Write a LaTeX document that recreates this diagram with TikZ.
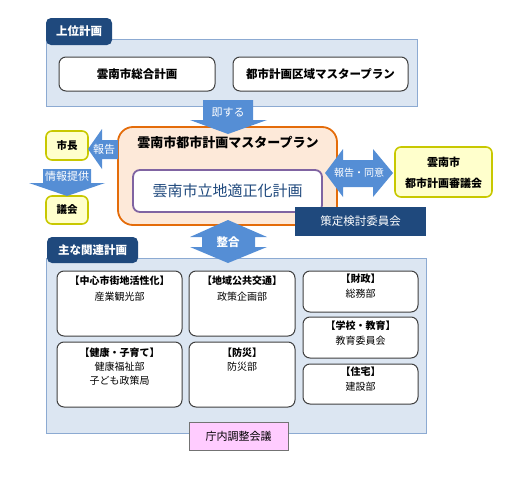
\documentclass[tikz,border=0pt]{standalone}
\usepackage{fontspec}
\setmainfont{Noto Sans CJK JP}
\definecolor{navy}{RGB}{31,73,125}
\definecolor{panelfill}{RGB}{220,230,242}
\definecolor{paneldraw}{RGB}{140,170,210}
\definecolor{arrowblue}{RGB}{85,142,213}
\definecolor{peach}{RGB}{253,233,217}
\definecolor{orangeline}{RGB}{228,108,10}
\definecolor{purpleline}{RGB}{128,100,162}
\definecolor{paleyellow}{RGB}{255,255,204}
\definecolor{yellowline}{RGB}{200,200,0}
\definecolor{pink}{RGB}{255,204,255}
\definecolor{darktext}{RGB}{31,73,125}
\tikzset{
  every node/.style={inner sep=0pt, outer sep=0pt},
  panel/.style={draw=paneldraw, fill=panelfill, line width=0.9pt},
  tab/.style={fill=navy, rounded corners=5pt, text=white, font=\fontsize{11.5}{13}\selectfont\bfseries},
  wbox/.style={draw=black!75, fill=white, rounded corners=7pt, line width=1pt},
  ybox/.style={draw=yellowline, fill=paleyellow, rounded corners=6pt, line width=1.6pt},
  blockarrow/.style={fill=arrowblue},
  arrowtext/.style={text=white, font=\fontsize{11}{13}\selectfont},
  head/.style={font=\fontsize{10}{14}\selectfont\bfseries, align=center},
  sub/.style={font=\fontsize{10}{14}\selectfont, align=center},
}
\begin{document}
\begin{tikzpicture}[x=1pt,y=-1pt]
\useasboundingbox (0,0) rectangle (522,479);
% top panel
\node[panel, minimum width=371pt, minimum height=67pt] (panelA) at (231.5,72.5) {};
\node[tab, minimum width=66pt, minimum height=27pt] (tabA) at (79,31.5) {上位計画};
\node[wbox, minimum width=156pt, minimum height=34pt, font=\fontsize{11.5}{13}\selectfont\bfseries] (sogo) at (137,74) {雲南市総合計画};
\node[wbox, minimum width=175pt, minimum height=34pt, font=\fontsize{11.5}{13}\selectfont\bfseries] (toshi) at (320.5,74) {都市計画区域マスタープラン};
% bottom panel
\node[panel, minimum width=380pt, minimum height=175pt] (panelB) at (236,345.5) {};
\node[tab, minimum width=91pt, minimum height=26pt] (tabB) at (92.5,250) {主な関連計画};
% orange master plan
\node[draw=orangeline, fill=peach, line width=1.8pt, rounded corners=15pt, minimum width=219pt, minimum height=98pt] (master) at (227.5,176) {};
\node[font=\fontsize{13}{15}\selectfont\bfseries] (masterT) at (228,143) {雲南市都市計画マスタープラン};
\node[draw=purpleline, fill=white, line width=1.8pt, rounded corners=7pt, minimum width=189pt, minimum height=42pt, text=darktext, font=\fontsize{15}{17}\selectfont] (ritchi) at (227.5,191) {雲南市立地適正化計画};
\node[fill=navy, text=white, minimum width=131pt, minimum height=29pt, font=\fontsize{11.5}{13}\selectfont] (sakutei) at (360.5,221.5) {策定検討委員会};
% right council
\node[ybox, minimum width=97pt, minimum height=50pt] (shingi) at (443.5,172) {};
\node[font=\fontsize{11}{13}\selectfont\bfseries] (shingi1) at (443.5,162.5) {雲南市};
\node[font=\fontsize{11}{13}\selectfont\bfseries] (shingi2) at (443.5,183) {都市計画審議会};
% left
\node[ybox, minimum width=42pt, minimum height=29pt, font=\fontsize{10.5}{12}\selectfont\bfseries] (shicho) at (67,145.5) {市長};
\node[ybox, minimum width=42pt, minimum height=28pt, font=\fontsize{10.5}{12}\selectfont\bfseries] (gikai) at (67,210) {議会};
% block arrows
\fill[blockarrow] (203,100) -- (253,100) -- (253,120) -- (267,120) -- (228,134) -- (190,120) -- (203,120) -- cycle;
\node[arrowtext] (sokusuru) at (228,113) {即する};
\fill[blockarrow] (118,140) -- (102,140) -- (102,129) -- (88,149) -- (102,169) -- (102,159) -- (118,159) -- cycle;
\node[arrowtext] (hokoku) at (104,149) {報告};
\fill[blockarrow] (43,169) -- (91,169) -- (91,183) -- (105,183) -- (67,196) -- (29,183) -- (43,183) -- cycle;
\node[arrowtext] (joho) at (67,176) {情報提供};
\fill[blockarrow] (325,173) -- (343,149) -- (343,160) -- (373,160) -- (373,149) -- (393,173) -- (373,197) -- (373,187) -- (343,187) -- (343,197) -- cycle;
\node[arrowtext, font=\fontsize{10}{12}\selectfont] (doui) at (359,173) {報告・同意};
\fill[blockarrow] (228,220) -- (267,237) -- (255,237) -- (255,247) -- (267,247) -- (228,263) -- (190,247) -- (202,247) -- (202,237) -- (190,237) -- cycle;
\node[arrowtext, font=\fontsize{11.5}{13}\selectfont\bfseries] (seigo) at (228,242) {整合};
% inner boxes
\node[wbox, minimum width=125pt, minimum height=65pt] (chushin) at (119.5,303.5) {};
\node[head, anchor=north] (chushinH) at (119.5,276) {【中心市街地活性化】};
\node[sub, anchor=north] (chushinS) at (119.5,292) {産業観光部};
\node[wbox, minimum width=106pt, minimum height=65pt] (chiiki) at (242,303.5) {};
\node[head, anchor=north] (chiikiH) at (242,276) {【地域公共交通】};
\node[sub, anchor=north] (chiikiS) at (242,292) {政策企画部};
\node[wbox, minimum width=115pt, minimum height=41pt] (zaisei) at (360.5,291.5) {};
\node[head, anchor=north] (zaiseiH) at (360.5,274) {【財政】};
\node[sub, anchor=north] (zaiseiS) at (360.5,289) {総務部};
\node[wbox, minimum width=115pt, minimum height=41pt] (gakko) at (360.5,337.5) {};
\node[head, anchor=north] (gakkoH) at (360.5,321) {【学校・教育】};
\node[sub, anchor=north] (gakkoS) at (360.5,336) {教育委員会};
\node[wbox, minimum width=115pt, minimum height=40pt] (jutaku) at (360.5,384) {};
\node[head, anchor=north] (jutakuH) at (360.5,367) {【住宅】};
\node[sub, anchor=north] (jutakuS) at (360.5,382) {建設部};
\node[wbox, minimum width=125pt, minimum height=65pt] (kenko) at (119.5,374.5) {};
\node[head, anchor=north] (kenkoH) at (119.5,348) {【健康・子育て】};
\node[sub, anchor=north] (kenkoS) at (119.5,362) {健康福祉部\\子ども政策局};
\node[wbox, minimum width=106pt, minimum height=65pt] (bosai) at (242,374.5) {};
\node[head, anchor=north] (bosaiH) at (242,348) {【防災】};
\node[sub, anchor=north] (bosaiS) at (242,362) {防災部};
\node[draw=black!55, fill=pink, line width=0.9pt, minimum width=99pt, minimum height=28pt, font=\fontsize{11}{13}\selectfont] (chonai) at (238.5,436) {庁内調整会議};
\end{tikzpicture}
\end{document}
